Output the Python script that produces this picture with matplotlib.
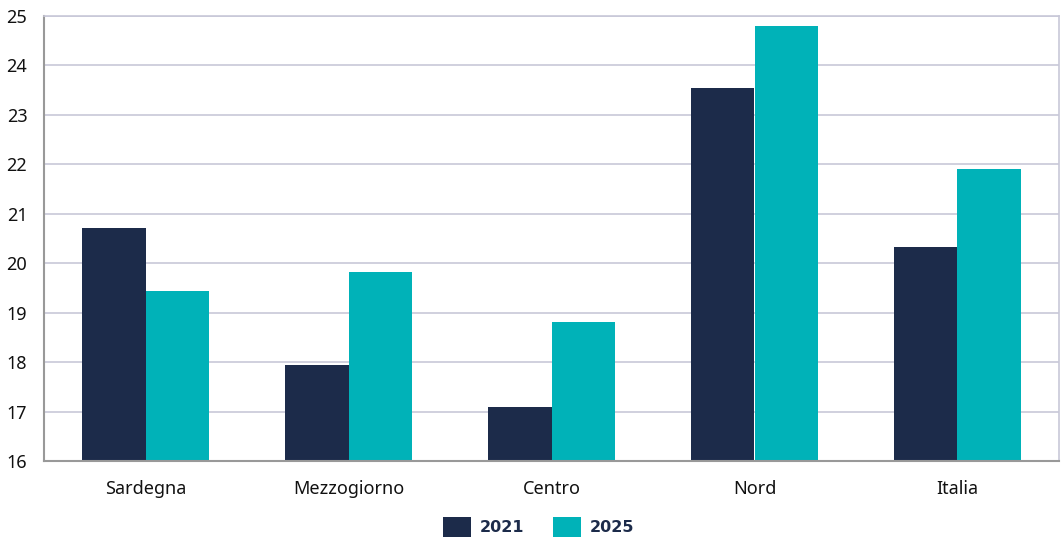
import numpy as np
import matplotlib.pyplot as plt

categories = ['Sardegna', 'Mezzogiorno', 'Centro', 'Nord', 'Italia']
v2021 = [20.71, 17.94, 17.09, 23.55, 20.33]
v2025 = [19.44, 19.82, 18.81, 24.80, 21.91]

navy = '#1c2b4a'
teal = '#00b2b8'

plt.rcParams['font.family'] = ['Noto Sans', 'DejaVu Sans']

fig = plt.figure(figsize=(10.62, 5.39), dpi=100)
ax = fig.add_axes([44/1062, 1 - 461/539, 1015/1062, 445/539])

x = np.arange(len(categories))
w = 0.315
ax.bar(x - w/2, v2021, w, bottom=0, color=navy, label='2021', zorder=3)
ax.bar(x + w/2, v2025, w, bottom=0, color=teal, label='2025', zorder=3)

ax.set_ylim(16, 25)
ax.set_xlim(-0.5, 4.5)
ax.set_yticks(range(16, 26))
ax.set_xticks(x)
ax.set_xticklabels(categories)
ax.tick_params(axis='both', length=0, labelsize=13, colors='#111111')
ax.tick_params(axis='x', pad=14)
ax.tick_params(axis='y', pad=12)
ax.grid(axis='y', color='#c8c8d8', linewidth=1.2, zorder=0)

for s in ['top', 'right']:
    ax.spines[s].set_color('#c8c8d8')
    ax.spines[s].set_linewidth(1.2)
for s in ['left', 'bottom']:
    ax.spines[s].set_color('#999999')
    ax.spines[s].set_linewidth(1.5)
ax.spines['bottom'].set_zorder(4)

leg = fig.legend(loc='center', bbox_to_anchor=(0.507, 1 - 527/539), ncol=2, frameon=False,
                 handlelength=1.75, handleheight=1.55, columnspacing=1.8, handletextpad=0.55,
                 prop={'family': 'DejaVu Sans', 'weight': 'bold', 'size': 11.5})
for t in leg.get_texts():
    t.set_color(navy)

fig.savefig('out.png', dpi=100)
